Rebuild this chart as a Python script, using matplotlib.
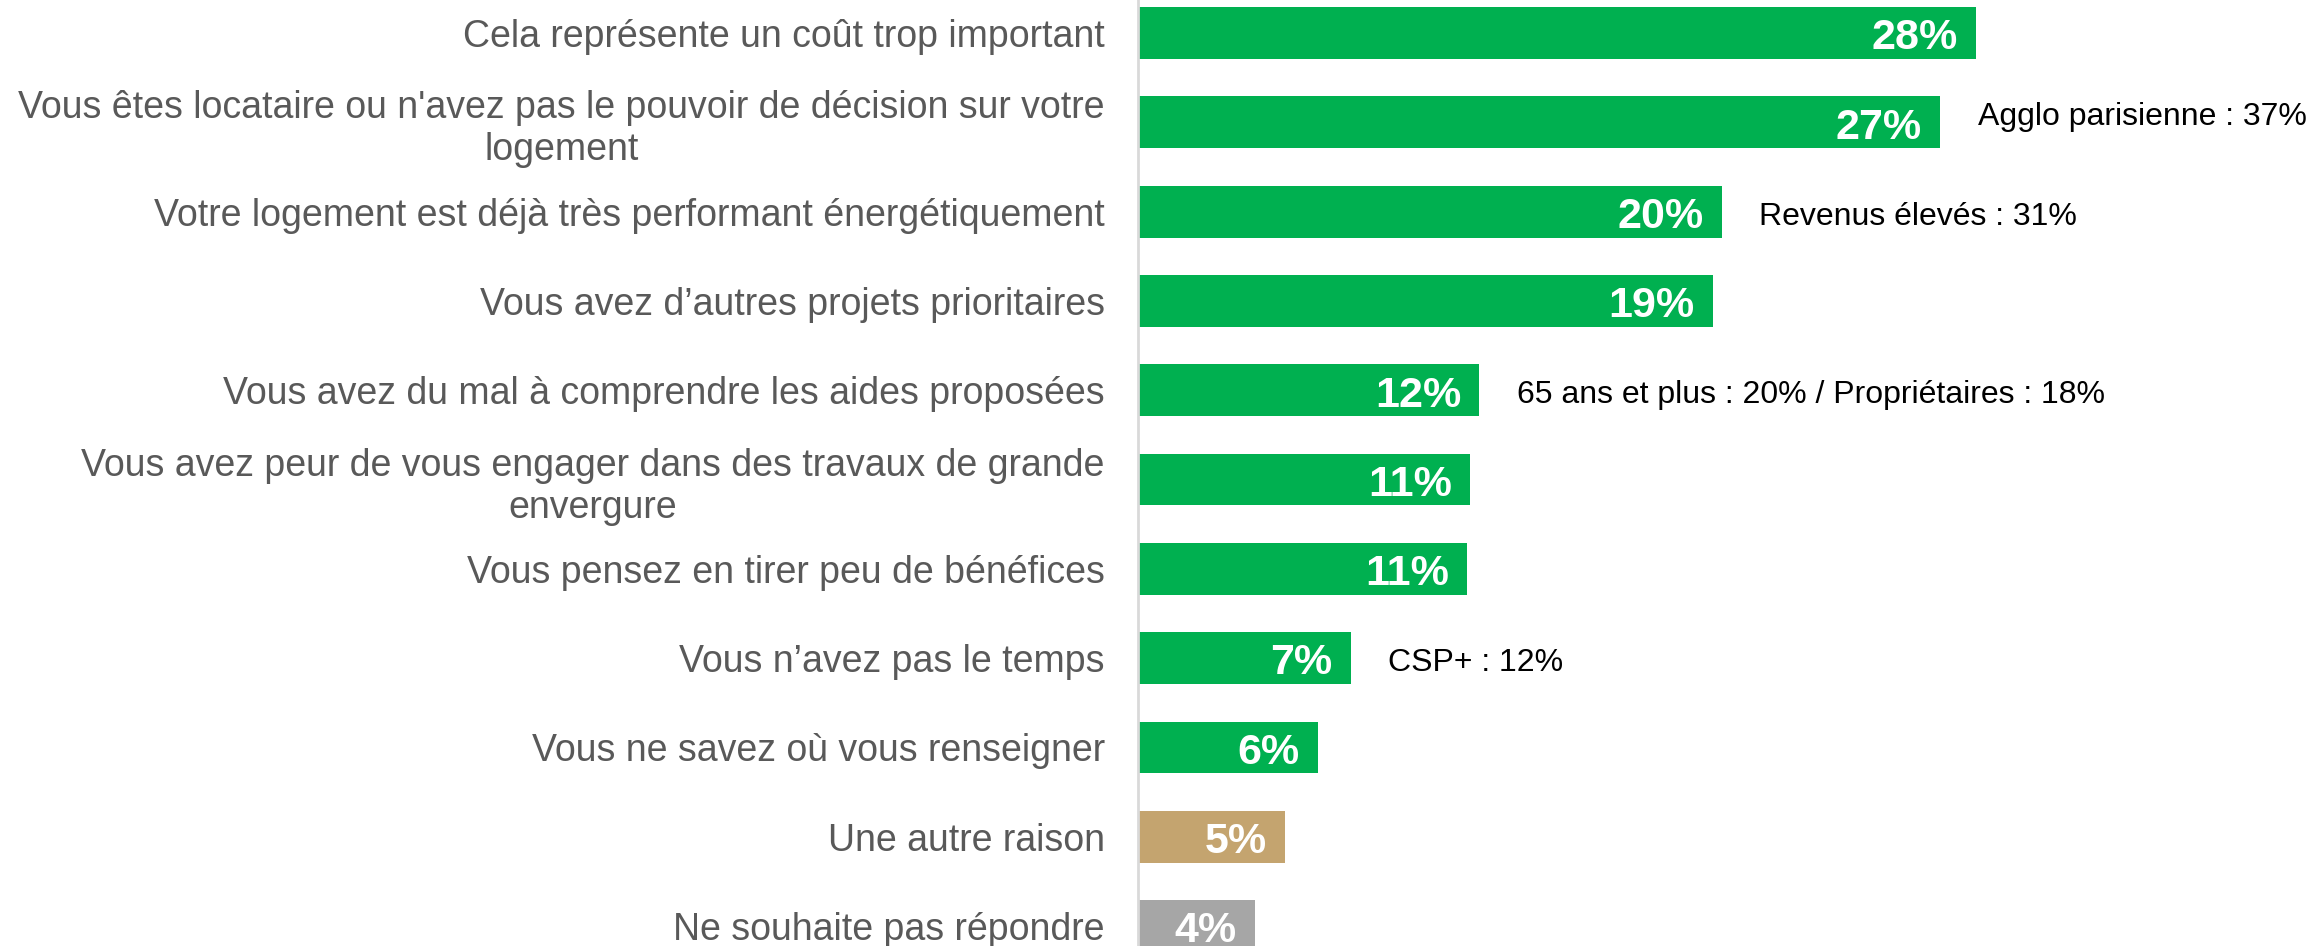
import matplotlib.pyplot as plt

plt.rcParams['font.family'] = ['Liberation Sans', 'DejaVu Sans']

# données
categories = [
    "Cela représente un coût trop important",
    "Vous êtes locataire ou n'avez pas le pouvoir de décision sur votre\nlogement",
    "Votre logement est déjà très performant énergétiquement",
    "Vous avez d\u2019autres projets prioritaires",
    "Vous avez du mal à comprendre les aides proposées",
    "Vous avez peur de vous engager dans des travaux de grande\nenvergure",
    "Vous pensez en tirer peu de bénéfices",
    "Vous n\u2019avez pas le temps",
    "Vous ne savez où vous renseigner",
    "Une autre raison",
    "Ne souhaite pas répondre",
]
values = [28.0, 26.8, 19.5, 19.2, 11.4, 11.1, 11.0, 7.1, 6.0, 4.9, 3.9]
value_labels = ["28%", "27%", "20%", "19%", "12%", "11%", "11%", "7%", "6%", "5%", "4%"]
bar_colors = ["#00B050"] * 9 + ["#C4A46F", "#A6A6A6"]
note_rows = [1, 2, 4, 7]
note_texts = [
    "Agglo parisienne : 37%",
    "Revenus élevés : 31%",
    "65 ans et plus : 20% / Propriétaires : 18%",
    "CSP+ : 12%",
]
note_dy = [-2.2, -9.4, -9.4, -9.4]  # décalage vertical (points)

fig = plt.figure(figsize=(23.11, 9.46), dpi=100)
ax = fig.add_axes([1138 / 2311, 0, 1 - 1138 / 2311, 1])

y = list(range(len(categories)))
ax.barh(y, values, height=0.58, color=bar_colors)

ax.set_xlim(0, 39.19)
ax.set_ylim(10.224, -0.37)

ax.set_yticks(y)
ax.set_yticklabels(categories, fontsize=27, color="#595959",
                   multialignment="center", linespacing=1.22)
ax.tick_params(axis="y", length=0, pad=24)
ax.set_xticks([])

for s in ["top", "right", "bottom"]:
    ax.spines[s].set_visible(False)
ax.spines["left"].set_color("#D9D9D9")
ax.spines["left"].set_linewidth(2)

# étiquettes de valeur dans les barres
for i, (v, lab) in enumerate(zip(values, value_labels)):
    ax.annotate(lab, (v, i), xytext=(-13, -11.8), textcoords="offset points",
                ha="right", va="baseline", color="white", fontsize=31,
                fontweight="bold")

# précisions à droite des barres
for r, txt, dy in zip(note_rows, note_texts, note_dy):
    ax.annotate(txt, (values[r], r), xytext=(27, dy), textcoords="offset points",
                ha="left", va="baseline", color="black", fontsize=23,
                annotation_clip=False)

fig.savefig("out.png", dpi=100)
